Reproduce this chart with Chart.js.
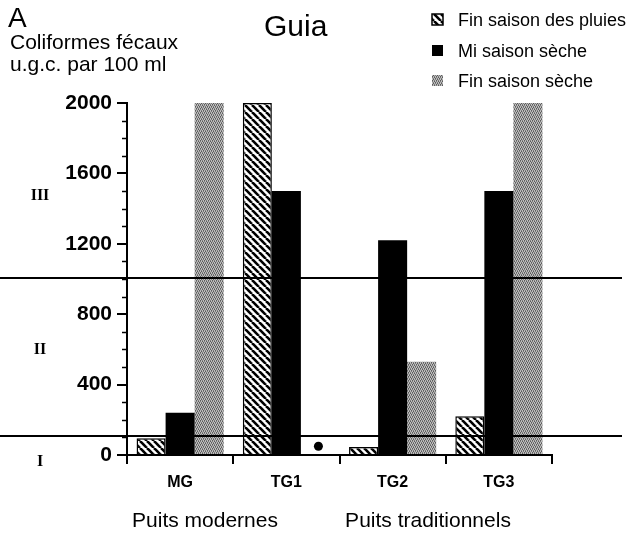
<!DOCTYPE html>
<html><head><meta charset="utf-8">
<script src="https://cdn.jsdelivr.net/npm/chart.js@4.4.0/dist/chart.umd.min.js"></script>
<style>html,body{margin:0;padding:0;background:#fff}#wrap{position:relative;width:632px;height:536px}</style>
</head><body><div id="wrap"><canvas id="c" width="632" height="536"></canvas></div>
<script>
const categories = ['MG', 'TG1', 'TG2', 'TG3'];
const seriesNames = ['Fin saison des pluies', 'Mi saison sèche', 'Fin saison sèche'];
const finPluies = [95, 2000, 45, 220];
const miSeche = [240, 1500, 1220, 1500];
const finSeche = [2000, null, 530, 2000];
const finSecheMarker = [null, 50, null, null];
const thresholds = [100, 1000];
const zoneLabels = ['I', 'II', 'III'];
const groupLabels = ['Puits modernes', 'Puits traditionnels'];

const FONT = "'Liberation Sans', Arial, sans-serif";

function hatchPattern() {
  const s = 7, c = document.createElement('canvas');
  c.width = s; c.height = s;
  const g = c.getContext('2d');
  g.fillStyle = '#fff'; g.fillRect(0, 0, s, s);
  g.strokeStyle = '#000'; g.lineWidth = 2.6;
  for (const o of [-s, 0, s]) { g.beginPath(); g.moveTo(o, 0); g.lineTo(o + s, s); g.stroke(); }
  return g.createPattern(c, 'repeat');
}
function grayPattern() {
  const c = document.createElement('canvas');
  c.width = 4; c.height = 4;
  const g = c.getContext('2d');
  const cols = ['#5c5c5c', '#b6b6b6', '#7c7c7c', '#c2c2c2'];
  for (let y = 0; y < 4; y++) for (let x = 0; x < 4; x++) {
    g.fillStyle = cols[(x + y * 2 + (y >> 1)) % 4]; g.fillRect(x, y, 1, 1);
  }
  return g.createPattern(c, 'repeat');
}
const hatch = hatchPattern();
const gray = grayPattern();
const fills = [hatch, '#000', gray];

const overlay = {
  id: 'overlay',
  afterDatasetsDraw(chart) {
    const ctx = chart.ctx, y = chart.scales.y;
    ctx.save();
    ctx.strokeStyle = '#000'; ctx.lineWidth = 2;
    thresholds.forEach(t => {
      const py = Math.round(y.getPixelForValue(t)) - 1;
      ctx.beginPath(); ctx.moveTo(0, py); ctx.lineTo(622, py); ctx.stroke();
    });
    const meta = chart.getDatasetMeta(2);
    finSecheMarker.forEach((v, i) => {
      if (v == null) return;
      const px = meta.data[i].x + 3, py = y.getPixelForValue(v);
      ctx.fillStyle = '#000'; ctx.beginPath(); ctx.arc(px, py, 4.5, 0, Math.PI * 2); ctx.fill();
    });
    ctx.restore();
  },
  afterDraw(chart) {
    const ctx = chart.ctx;
    ctx.save();
    ctx.fillStyle = '#000';
    ctx.textBaseline = 'alphabetic';
    ctx.textAlign = 'left';
    ctx.font = '28px ' + FONT; ctx.fillText('A', 8, 27);
    ctx.font = '21px ' + FONT;
    ctx.fillText('Coliformes fécaux', 10, 49);
    ctx.fillText('u.g.c. par 100 ml', 10, 71);
    ctx.font = '30px ' + FONT; ctx.fillText('Guia', 264, 36);
    const rows = [20, 51, 81];
    seriesNames.forEach((n, i) => {
      const cy = rows[i];
      ctx.fillStyle = fills[i];
      ctx.fillRect(432, cy - 6, 11, 11);
      if (i === 0) { ctx.strokeStyle = '#000'; ctx.lineWidth = 1.5; ctx.strokeRect(432, cy - 6, 11, 11); }
      ctx.fillStyle = '#000';
      ctx.font = '18px ' + FONT;
      ctx.textBaseline = 'middle';
      ctx.fillText(n, 458, cy + 1);
    });
    ctx.font = 'bold 16px "Liberation Serif", serif';
    ctx.textAlign = 'center';
    ctx.textBaseline = 'middle';
    const zy = [462, 350, 196];
    zoneLabels.forEach((z, i) => ctx.fillText(z, 40, zy[i]));
    ctx.font = '21px ' + FONT;
    ctx.textBaseline = 'alphabetic';
    ctx.fillText(groupLabels[0], 205, 527);
    ctx.fillText(groupLabels[1], 428, 527);
    ctx.restore();
  }
};

new Chart(document.getElementById('c'), {
  type: 'bar',
  data: {
    labels: categories,
    datasets: [
      { label: seriesNames[0], data: finPluies, backgroundColor: hatch, borderColor: '#000', borderWidth: 1.5 },
      { label: seriesNames[1], data: miSeche, backgroundColor: '#000', borderWidth: 0 },
      { label: seriesNames[2], data: finSeche, backgroundColor: gray, borderWidth: 0 }
    ]
  },
  options: {
    responsive: false,
    animation: false,
    devicePixelRatio: 1,
    categoryPercentage: 0.82,
    barPercentage: 1.0,
    layout: { padding: { top: 103, right: 80, left: 0, bottom: 0 } },
    plugins: { legend: { display: false }, tooltip: { enabled: false }, title: { display: false } },
    scales: {
      x: {
        type: 'category',
        offset: true,
        grid: { offset: true, drawOnChartArea: false, tickLength: 9, color: '#000', lineWidth: 2 },
        border: { color: '#000', width: 2 },
        ticks: { color: '#000', font: { family: FONT, size: 16, weight: 'bold' }, padding: 9 },
        afterFit: s => { s.height = 81; }
      },
      y: {
        min: 0, max: 2000,
        ticks: { stepSize: 400, color: '#000', font: { family: FONT, size: 21, weight: 'bold' }, padding: 5, callback: v => String(v) },
        grid: { drawOnChartArea: false, tickLength: 10, color: '#000', lineWidth: 2 },
        border: { color: '#000', width: 2 },
        afterFit: s => { s.width = 127; }
      }
    }
  },
  plugins: [overlay, {
    id: 'minorTicks',
    afterDraw(chart) {
      const y = chart.scales.y, ctx = chart.ctx, x0 = chart.chartArea.left;
      ctx.save(); ctx.strokeStyle = '#000'; ctx.lineWidth = 1.5;
      for (let v = y.min; v <= y.max; v += 100) {
        if (v % 400 === 0) continue;
        const py = Math.round(y.getPixelForValue(v)) + 0.5;
        ctx.beginPath(); ctx.moveTo(x0 - 5, py); ctx.lineTo(x0, py); ctx.stroke();
      }
      ctx.restore();
    }
  }]
});
</script></body></html>
